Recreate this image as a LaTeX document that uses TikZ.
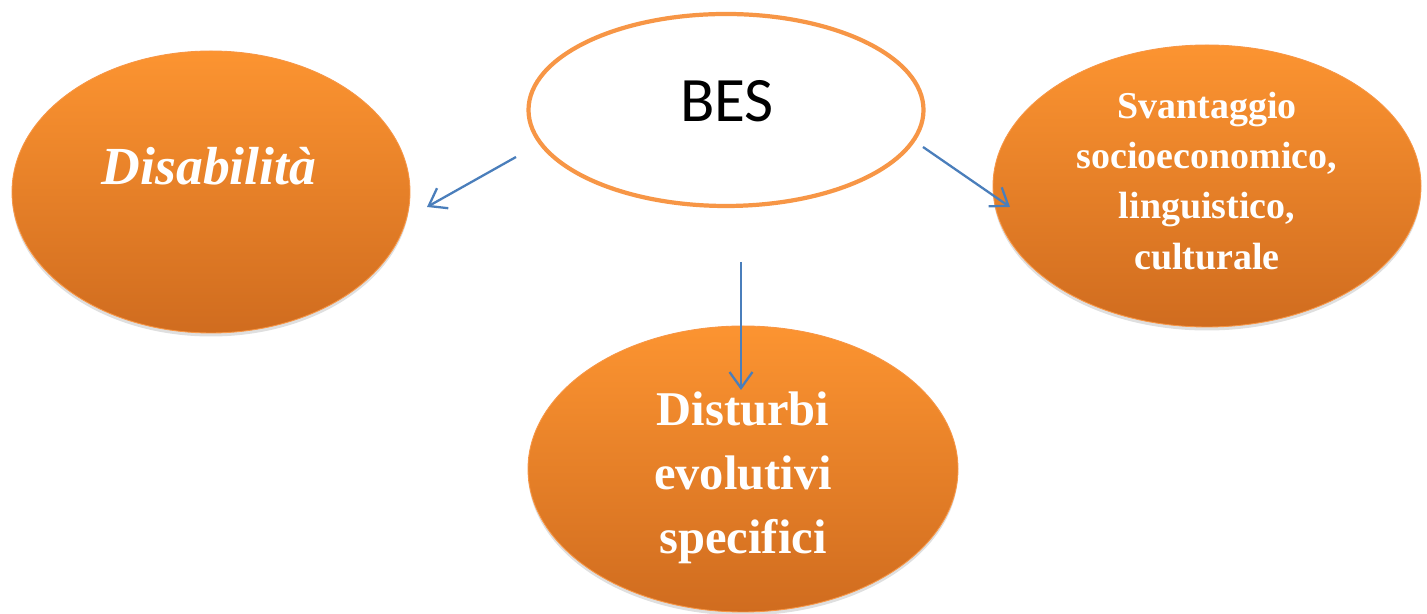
\documentclass[tikz,border=0pt]{standalone}
\usepackage{fontspec}
\setmainfont{Liberation Serif}
\newfontfamily\besfont{Carlito}
\usetikzlibrary{positioning}
\usetikzlibrary{shapes.geometric}
\usetikzlibrary{shadows}
\usetikzlibrary{arrows.meta}
\usepackage{xcolor}
\definecolor{bestop}{HTML}{FC9431}
\definecolor{besbot}{HTML}{D06C1F}
\definecolor{besline}{HTML}{F79646}
\definecolor{besblue}{HTML}{4A7EBB}

\begin{document}
\begin{tikzpicture}[
  blob/.style={ellipse, inner sep=0pt, draw=besline, line width=0.5pt,
    top color=bestop, bottom color=besbot,
    drop shadow={opacity=0.25, shadow xshift=0cm, shadow yshift=-0.07cm}},
  blobtext/.style={text=white, font=\bfseries, align=center},
  link/.style={besblue, line width=1.3pt, -{Straight Barb[length=3.2mm,width=4.6mm]}}
]

\useasboundingbox (0,0) rectangle (28.54,12.28);

\node[blob, minimum width=7.96cm, minimum height=5.64cm] (dis) at (4.22,8.44) {};
\node[blob, minimum width=8.56cm, minimum height=5.64cm] (svan) at (24.14,8.56) {};
\node[blob, minimum width=8.6cm, minimum height=5.72cm] (dist) at (14.86,2.90) {};
\node[ellipse, draw=besline, line width=2.4pt, fill=white, inner sep=0pt,
  minimum width=7.9cm, minimum height=3.84cm] (bes) at (14.52,10.08) {};

\node[font=\besfont\fontsize{36}{40}\selectfont] (beslabel) at (14.54,10.26) {BES};
\node[blobtext, font=\bfseries\itshape\fontsize{30.5}{36}\selectfont] (dislabel) at (4.18,8.95) {Disabilità};
\node[blobtext, font=\bfseries\fontsize{21.6}{28.5}\selectfont] (svanlabel) at (24.14,8.66)
  {Svantaggio\\socioeconomico,\\linguistico,\\culturale};
\node[blobtext, font=\bfseries\fontsize{27.6}{36.5}\selectfont] (distlabel) at (14.86,2.72)
  {Disturbi\\evolutivi\\specifici};

\coordinate (a1s) at (10.32,9.14);
\coordinate (a1e) at (8.54,8.14);
\coordinate (a2s) at (18.46,9.34);
\coordinate (a2e) at (20.2,8.14);
\coordinate (a3s) at (14.82,7.04);
\coordinate (a3e) at (14.82,4.48);

\draw[link] (a1s) -- (a1e);
\draw[link] (a2s) -- (a2e);
\draw[link] (a3s) -- (a3e);

\end{tikzpicture}
\end{document}
